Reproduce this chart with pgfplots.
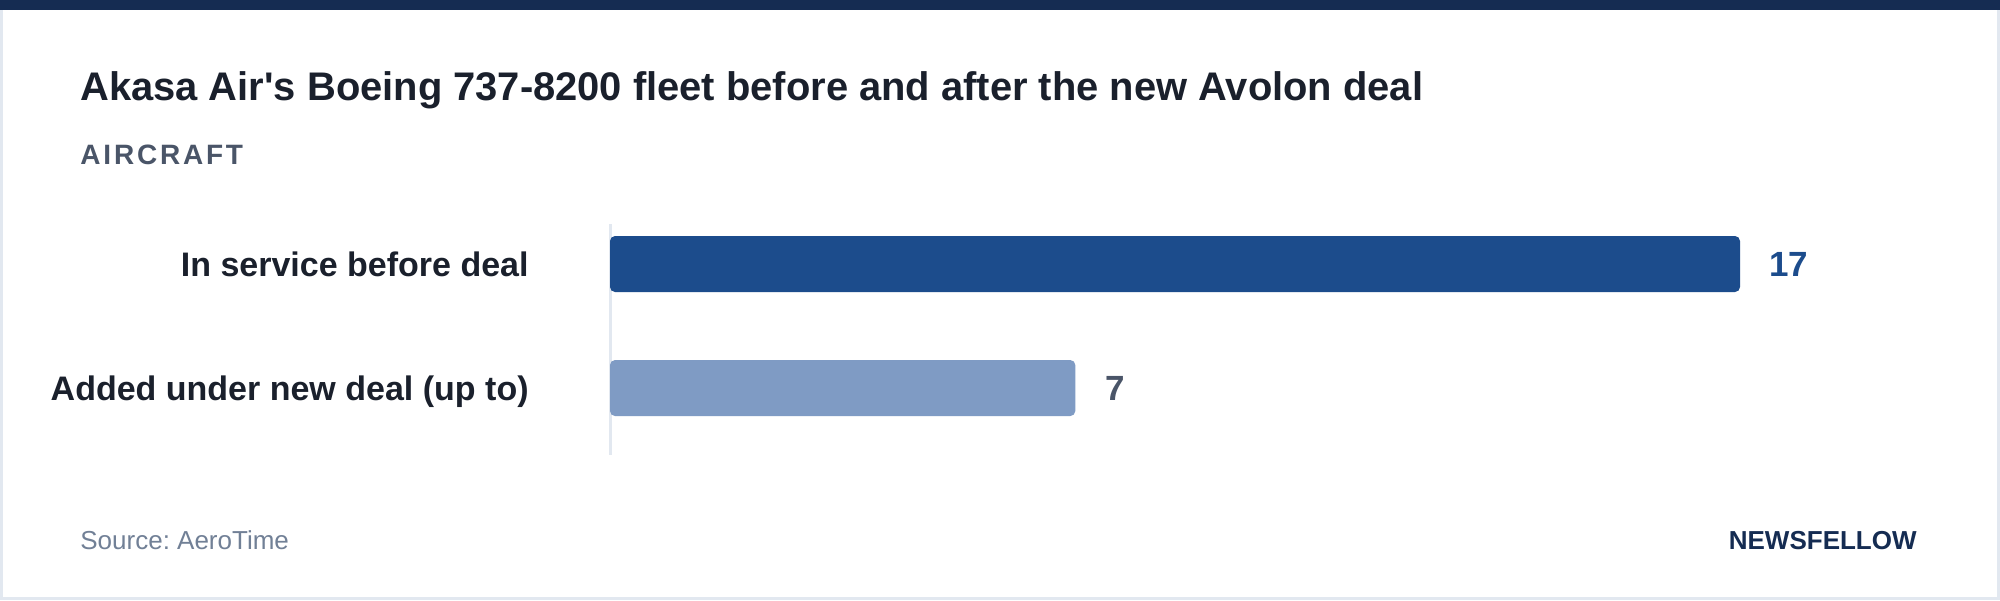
\documentclass[border=0pt]{standalone}
\usepackage{pgfplots}
\pgfplotsset{compat=1.18}
\usepackage{fontspec}
\setmainfont{Liberation Sans}
\frenchspacing
\definecolor{navy}{HTML}{152C52}
\definecolor{titlecol}{HTML}{1A202C}
\definecolor{subcol}{HTML}{4A5568}
\definecolor{srcgray}{HTML}{718096}
\definecolor{linegray}{HTML}{E2E8F0}
\definecolor{barone}{HTML}{1C4C8C}
\definecolor{bartwo}{HTML}{7F9BC4}
\begin{document}
\begin{tikzpicture}[x=0.5pt,y=-0.5pt]
\useasboundingbox (0,0) rectangle (2000,600);
\fill[white] (0,0) rectangle (2000,600);
\draw[linegray, line width=1.5pt] (1.5,1.5) rectangle (1998.5,598.5);
\fill[navy] (0,0) rectangle (2000,10);
\node[anchor=base west, inner sep=0pt, text=titlecol, font=\fontsize{19.95pt}{24pt}\selectfont\bfseries] at (80,100) {Akasa Air\textquotesingle s Boeing 737-8200 fleet before and after the new Avolon deal};
\node[anchor=base west, inner sep=0pt, text=subcol, font=\fontsize{14pt}{16pt}\selectfont\bfseries\addfontfeatures{LetterSpace=10}] at (80,164) {AIRCRAFT};
\node[anchor=base west, inner sep=0pt, text=srcgray, font=\fontsize{13pt}{15pt}\selectfont] at (80,549) {Source: AeroTime};
\node[anchor=base east, inner sep=0pt, text=navy, font=\fontsize{13pt}{15pt}\selectfont\bfseries] at (1917,549) {NEWSFELLOW};
\begin{axis}[
  at={(305pt,-112pt)}, anchor=north west,
  scale only axis, width=565pt, height=115.5pt,
  xmin=0, xmax=17, ymin=-0.3226, ymax=1.540,
  y dir=reverse,
  axis x line=none,
  axis y line=left,
  y axis line style={-, draw=linegray, line width=1.5pt},
  major tick length=0pt,
  ytick={0,1},
  yticklabels={In service before deal, Added under new deal (up to)},
  yticklabel style={anchor=base east, inner sep=0pt, xshift=-40.5pt, yshift=-6pt, text=titlecol, font=\fontsize{17pt}{20pt}\selectfont\bfseries},
  clip=false,
  /pgf/number format/assume math mode=true,
  point meta=x,
]
\addplot[xbar, bar width=28pt, bar shift=0pt, fill=barone, draw=none, rounded corners=2.5pt,
  nodes near coords, nodes near coords style={anchor=west, inner sep=0pt, xshift=14.5pt, text=barone, font=\fontsize{17.5pt}{20pt}\selectfont\bfseries}]
  coordinates {(17,0)};
\addplot[xbar, bar width=28pt, bar shift=0pt, fill=bartwo, draw=none, rounded corners=2.5pt,
  nodes near coords, nodes near coords style={anchor=west, inner sep=0pt, xshift=15pt, text=subcol, font=\fontsize{17.5pt}{20pt}\selectfont\bfseries}]
  coordinates {(7,1)};
\end{axis}
\end{tikzpicture}
\end{document}
